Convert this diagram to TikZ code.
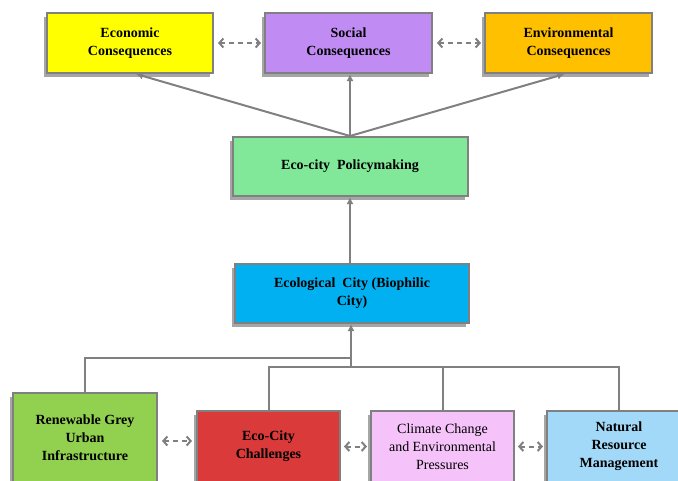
\documentclass[tikz,border=0pt]{standalone}
\usepackage{fontspec}
\setmainfont{Liberation Serif}
\usetikzlibrary{arrows.meta}
\definecolor{cecon}{HTML}{FFFF00}
\definecolor{csoc}{HTML}{C08CF4}
\definecolor{cenv}{HTML}{FFC000}
\definecolor{cpol}{HTML}{80E898}
\definecolor{ceco}{HTML}{00B0F0}
\definecolor{cren}{HTML}{92D050}
\definecolor{cchal}{HTML}{DA3A3A}
\definecolor{cclim}{HTML}{F5C3FA}
\definecolor{cnat}{HTML}{A3D9F8}
\definecolor{lgray}{HTML}{808080}
\tikzset{
  box/.style={draw=lgray, line width=2pt, align=center, inner sep=2pt,
    font=\fontsize{14}{18}\selectfont\bfseries},
  link/.style={draw=lgray, line width=2pt, -{Latex[length=7pt,width=7pt]}},
  tree/.style={draw=lgray, line width=2pt},
  dlink/.style={draw=lgray, line width=2pt, dash pattern=on 5pt off 4pt,
    {Straight Barb[length=4pt,width=9pt]}-{Straight Barb[length=4pt,width=9pt]}},
}
\begin{document}
\begin{tikzpicture}[x=1pt,y=-1pt]
\useasboundingbox (0,0) rectangle (678,480);
\clip (0,0) rectangle (678,480);
% shadows
\foreach \cx/\cy/\w/\h in {130/43/166/60, 348.5/43/167/60, 568.5/43/167/60,
  350/166.5/235/59, 352/293.5/234/59, 85/438/144/90, 268.5/446.5/143/71,
  442.5/446.5/143/71, 619/446.5/144/71}{
  \fill[gray!70] (\cx-\w/2-3,\cy-\h/2+4) rectangle (\cx+\w/2-3,\cy+\h/2+4);
}
\node[box, fill=cecon, minimum width=166pt, minimum height=60pt] (econ) at (130,43) {Economic\\Consequences};
\node[box, fill=csoc, minimum width=167pt, minimum height=60pt] (soc) at (348.5,43) {Social\\Consequences};
\node[box, fill=cenv, minimum width=167pt, minimum height=60pt] (env) at (568.5,43) {Environmental\\Consequences};
\node[box, fill=cpol, minimum width=235pt, minimum height=59pt] (pol) at (350,166.5) {Eco-city\ \ Policymaking};
\node[box, fill=ceco, minimum width=234pt, minimum height=59pt] (eco) at (352,293.5) {Ecological\ \ City (Biophilic\\City)};
\node[box, fill=cren, minimum width=144pt, minimum height=90pt] (ren) at (85,438) {Renewable Grey\\Urban\\Infrastructure};
\node[box, fill=cchal, minimum width=143pt, minimum height=71pt] (chal) at (268.5,446.5) {Eco-City\\Challenges};
\node[box, fill=cclim, minimum width=143pt, minimum height=71pt, font=\fontsize{14}{18}\selectfont] (clim) at (442.5,446.5) {Climate Change\\and Environmental\\Pressures};
\node[box, fill=cnat, minimum width=144pt, minimum height=71pt] (nat) at (619,446.5) {Natural\\Resource\\Management};
% top arrows
\draw[link] (pol.north) -- ([xshift=6pt]econ.south);
\draw[link] (pol.north) -- (pol.north |- soc.south);
\draw[link] (pol.north) -- ([xshift=-4pt]env.south);
\draw[link] (eco.north -| pol.north) -- (pol.south);
% tree
\coordinate (j1) at (351,358);
\coordinate (j2) at (351,367);
\draw[tree] (ren.north) |- (j1);
\draw[tree] (chal.north) |- (j2);
\draw[tree] (clim.north) |- (j2);
\draw[tree] (nat.north) |- (j2);
\draw[link] (j2) -- (eco.south -| j2);
% dashed
\draw[dlink] ([xshift=4pt]econ.east) -- ([xshift=-3pt]soc.west);
\draw[dlink] ([xshift=4pt]soc.east) -- ([xshift=-3pt]env.west);
\coordinate (r1) at ([xshift=4pt,yshift=-3pt]ren.east);
\draw[dlink] (r1) -- ([xshift=-4pt]r1 -| chal.west);
\draw[dlink] ([xshift=3pt]chal.east) -- ([xshift=-3pt]clim.west);
\draw[dlink] ([xshift=3pt]clim.east) -- ([xshift=-3pt]nat.west);
\end{tikzpicture}
\end{document}
